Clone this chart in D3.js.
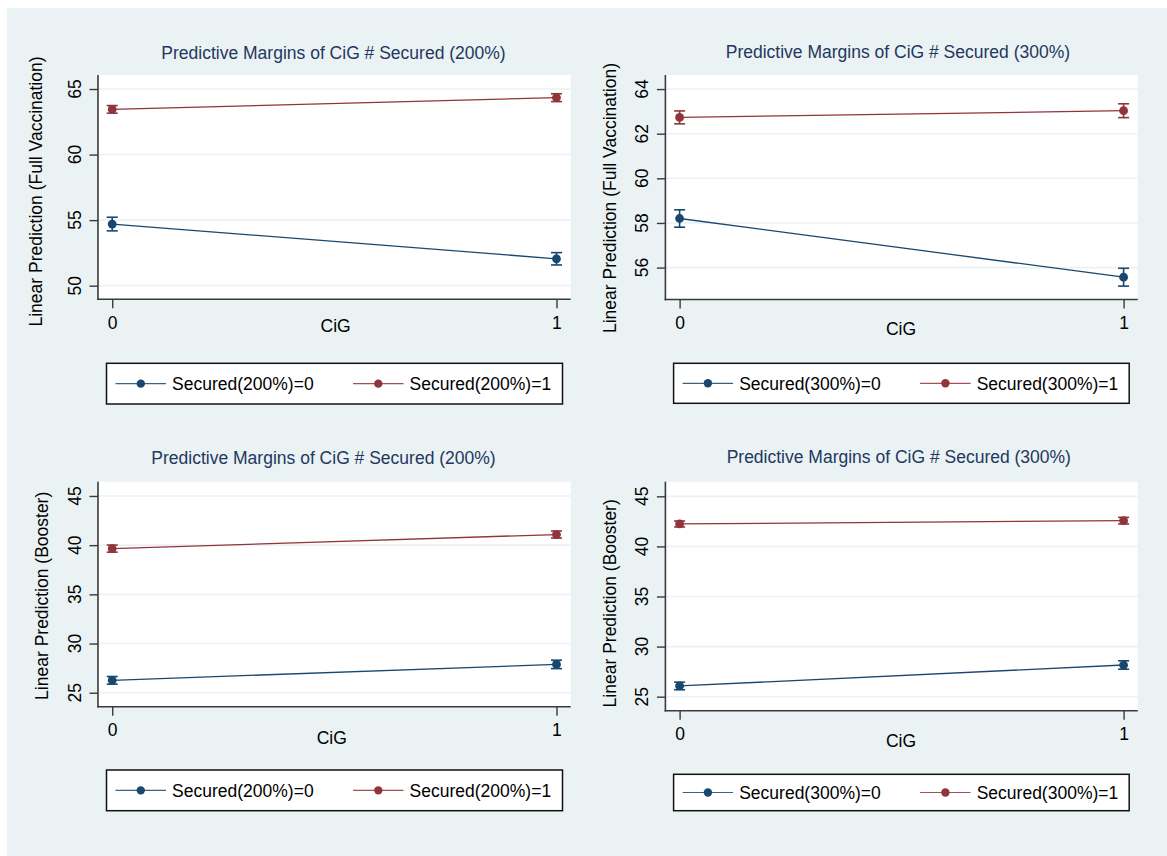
<!DOCTYPE html>
<html>
<head>
<meta charset="utf-8">
<script src="https://cdn.jsdelivr.net/npm/d3@7"></script>
<style>
  html, body { margin: 0; padding: 0; background: #ffffff; }
  svg { display: block; }
  text { font-family: "Liberation Sans", Arial, Helvetica, sans-serif; }
</style>
</head>
<body>
<svg id="chart" width="1167" height="856"></svg>
<script>
// ---------------- DATA ----------------
const categories = [0, 1];               // CiG
const xTickLabels = ["0", "1"];
const xAxisTitle = "CiG";

const panelTitles = [
  "Predictive Margins of CiG # Secured (200%)",
  "Predictive Margins of CiG # Secured (300%)",
  "Predictive Margins of CiG # Secured (200%)",
  "Predictive Margins of CiG # Secured (300%)"
];
const yAxisTitles = [
  "Linear Prediction (Full Vaccination)",
  "Linear Prediction (Full Vaccination)",
  "Linear Prediction (Booster)",
  "Linear Prediction (Booster)"
];
const legendLabels0 = ["Secured(200%)=0", "Secured(300%)=0", "Secured(200%)=0", "Secured(300%)=0"];
const legendLabels1 = ["Secured(200%)=1", "Secured(300%)=1", "Secured(200%)=1", "Secured(300%)=1"];

// y tick values per panel
const yTicks1 = [50, 55, 60, 65];
const yTicks2 = [56, 58, 60, 62, 64];
const yTicks3 = [25, 30, 35, 40, 45];
const yTicks4 = [25, 30, 35, 40, 45];

// y axis ranges per panel
const yRange1 = [48.96, 66.07];
const yRange2 = [54.57, 64.63];
const yRange3 = [23.58, 46.45];
const yRange4 = [23.60, 46.46];
const xRange = [-0.032, 1.032];

// margins (point estimates) and CI half-widths
// Panel 1: Full vaccination, Secured 200%
const p1_sec0 = [54.70, 52.05];  const p1_sec0_ci = [0.52, 0.47];
const p1_sec1 = [63.45, 64.34];  const p1_sec1_ci = [0.29, 0.30];
// Panel 2: Full vaccination, Secured 300%
const p2_sec0 = [58.20, 55.57];  const p2_sec0_ci = [0.39, 0.40];
const p2_sec1 = [62.73, 63.03];  const p2_sec1_ci = [0.29, 0.31];
// Panel 3: Booster, Secured 200%
const p3_sec0 = [26.26, 27.88];  const p3_sec0_ci = [0.39, 0.43];
const p3_sec1 = [39.65, 41.08];  const p3_sec1_ci = [0.36, 0.36];
// Panel 4: Booster, Secured 300%
const p4_sec0 = [26.07, 28.16];  const p4_sec0_ci = [0.38, 0.42];
const p4_sec1 = [42.24, 42.57];  const p4_sec1_ci = [0.30, 0.33];

// ---------------- LAYOUT / STYLE ----------------
const BG = "#eaf2f3", GRID = "#eaf2f3", AXIS = "#3a3a3a";
const C0 = "#1a476f", C1 = "#90353b", TITLE_C = "#243760";
const FS = 17.5;

const layouts = [
  { x0: 98,    x1: 570.7,  y0: 75,    y1: 299.3, titleX: 333.5, titleY: 59,
    yTitleX: 35.7, yTitleY: 191.5, tickLX: 75, cigX: 335.6, cigY: 331.5,
    leg: { x0: 106.5, x1: 562.5, y0: 363.3, y1: 404 } },
  { x0: 665.4, x1: 1137.8, y0: 75,    y1: 299.5, titleX: 897.9, titleY: 58,
    yTitleX: 610,  yTitleY: 198,   tickLX: 641.8, cigX: 901, cigY: 335,
    leg: { x0: 673.6, x1: 1129.2, y0: 363.3, y1: 403.3 } },
  { x0: 98,    x1: 570.7,  y0: 481.7, y1: 706.7, titleX: 323.5, titleY: 464,
    yTitleX: 41.4, yTitleY: 595.8, tickLX: 75, cigX: 331.8, cigY: 744,
    leg: { x0: 106.5, x1: 562.5, y0: 770, y1: 810.7 } },
  { x0: 665.4, x1: 1137.8, y0: 481.7, y1: 710.7, titleX: 898.8, titleY: 463.3,
    yTitleX: 610,  yTitleY: 603.3, tickLX: 641.8, cigX: 901, cigY: 747.3,
    leg: { x0: 673.6, x1: 1129.2, y0: 774.3, y1: 810.7 } }
];

const panels = [
  { ticks: yTicks1, range: yRange1, s0: p1_sec0, s0ci: p1_sec0_ci, s1: p1_sec1, s1ci: p1_sec1_ci },
  { ticks: yTicks2, range: yRange2, s0: p2_sec0, s0ci: p2_sec0_ci, s1: p2_sec1, s1ci: p2_sec1_ci },
  { ticks: yTicks3, range: yRange3, s0: p3_sec0, s0ci: p3_sec0_ci, s1: p3_sec1, s1ci: p3_sec1_ci },
  { ticks: yTicks4, range: yRange4, s0: p4_sec0, s0ci: p4_sec0_ci, s1: p4_sec1, s1ci: p4_sec1_ci }
];

const svg = d3.select("#chart");
svg.append("rect").attr("x", 7).attr("y", 8).attr("width", 1160).attr("height", 848).attr("fill", BG);

panels.forEach((p, i) => {
  const L = layouts[i];
  const g = svg.append("g");
  const x = d3.scaleLinear().domain(xRange).range([L.x0, L.x1]);
  const y = d3.scaleLinear().domain(p.range).range([L.y1, L.y0]);

  // plot region
  g.append("rect").attr("x", L.x0).attr("y", L.y0)
    .attr("width", L.x1 - L.x0).attr("height", L.y1 - L.y0).attr("fill", "#ffffff");

  // gridlines
  g.append("g").selectAll("line").data(p.ticks).join("line")
    .attr("x1", L.x0).attr("x2", L.x1)
    .attr("y1", d => y(d)).attr("y2", d => y(d))
    .attr("stroke", GRID).attr("stroke-width", 1.6);

  // y axis
  const yAxis = d3.axisLeft(y).tickValues(p.ticks).tickSize(8.5).tickFormat(d3.format("d"));
  const ya = g.append("g").attr("transform", `translate(${L.x0},0)`).call(yAxis);
  ya.select(".domain").remove();
  ya.selectAll(".tick line").attr("stroke", AXIS).attr("stroke-width", 1.4);
  ya.selectAll(".tick text").remove();
  g.append("g").selectAll("text").data(p.ticks).join("text")
    .attr("transform", d => `translate(${L.tickLX},${y(d)}) rotate(-90)`)
    .attr("text-anchor", "middle").attr("dy", "0.36em")
    .attr("font-size", FS).attr("fill", "#000").text(d => d3.format("d")(d));

  // x axis
  const xAxis = d3.axisBottom(x).tickValues(categories).tickSize(9).tickFormat((d, k) => xTickLabels[k]);
  const xa = g.append("g").attr("transform", `translate(0,${L.y1})`).call(xAxis);
  xa.select(".domain").remove();
  xa.selectAll(".tick line").attr("stroke", AXIS).attr("stroke-width", 1.4);
  xa.selectAll(".tick text").attr("font-size", FS).attr("fill", "#000")
    .attr("font-family", "Liberation Sans, Arial, sans-serif")
    .attr("y", 29.3).attr("dy", 0);

  // axis lines
  g.append("line").attr("x1", L.x0).attr("x2", L.x0).attr("y1", L.y0).attr("y2", L.y1 + 0.8)
    .attr("stroke", AXIS).attr("stroke-width", 1.6);
  g.append("line").attr("x1", L.x0 - 0.8).attr("x2", L.x1).attr("y1", L.y1).attr("y2", L.y1)
    .attr("stroke", AXIS).attr("stroke-width", 1.6);

  // series
  const series = [
    { v: p.s0, ci: p.s0ci, c: C0 },
    { v: p.s1, ci: p.s1ci, c: C1 }
  ];
  const line = d3.line().x((d, k) => x(categories[k])).y(d => y(d));
  series.forEach(s => {
    g.append("path").attr("d", line(s.v)).attr("fill", "none")
      .attr("stroke", s.c).attr("stroke-width", 1.3);
    const pts = s.v.map((v, k) => ({ x: categories[k], v: v, ci: s.ci[k] }));
    const eg = g.append("g").selectAll("g").data(pts).join("g");
    eg.append("line").attr("x1", d => x(d.x)).attr("x2", d => x(d.x))
      .attr("y1", d => y(d.v - d.ci)).attr("y2", d => y(d.v + d.ci))
      .attr("stroke", s.c).attr("stroke-width", 1.6);
    [-1, 1].forEach(sg => {
      eg.append("line").attr("x1", d => x(d.x) - 5.5).attr("x2", d => x(d.x) + 5.5)
        .attr("y1", d => y(d.v + sg * d.ci)).attr("y2", d => y(d.v + sg * d.ci))
        .attr("stroke", s.c).attr("stroke-width", 1.6);
    });
    eg.append("circle").attr("cx", d => x(d.x)).attr("cy", d => y(d.v))
      .attr("r", 4.4).attr("fill", s.c);
  });

  // titles
  g.append("text").attr("x", L.titleX).attr("y", L.titleY).attr("text-anchor", "middle")
    .attr("font-size", FS).attr("fill", TITLE_C).text(panelTitles[i]);
  g.append("text").attr("transform", `translate(${L.yTitleX},${L.yTitleY}) rotate(-90)`)
    .attr("text-anchor", "middle").attr("dy", "0.36em")
    .attr("font-size", FS).attr("fill", "#000").text(yAxisTitles[i]);
  g.append("text").attr("x", L.cigX).attr("y", L.cigY).attr("text-anchor", "middle")
    .attr("font-size", FS).attr("fill", "#000").text(xAxisTitle);

  // legend
  const lg = L.leg;
  g.append("rect").attr("x", lg.x0).attr("y", lg.y0).attr("width", lg.x1 - lg.x0)
    .attr("height", lg.y1 - lg.y0).attr("fill", "#ffffff")
    .attr("stroke", "#111").attr("stroke-width", 1.5);
  const cy = (lg.y0 + lg.y1) / 2;
  const items = [
    { off: 9, c: C0, label: legendLabels0[i] },
    { off: 246.5, c: C1, label: legendLabels1[i] }
  ];
  items.forEach(it => {
    const sx = lg.x0 + it.off;
    g.append("line").attr("x1", sx).attr("x2", sx + 50.5).attr("y1", cy).attr("y2", cy)
      .attr("stroke", it.c).attr("stroke-width", 1.2).attr("stroke-opacity", 0.85);
    g.append("circle").attr("cx", sx + 25.3).attr("cy", cy).attr("r", 4.2).attr("fill", it.c);
    g.append("text").attr("x", sx + 56.6).attr("y", cy).attr("dy", "0.36em")
      .attr("font-size", FS).attr("fill", "#000").text(it.label);
  });
});
</script>
</body>
</html>
